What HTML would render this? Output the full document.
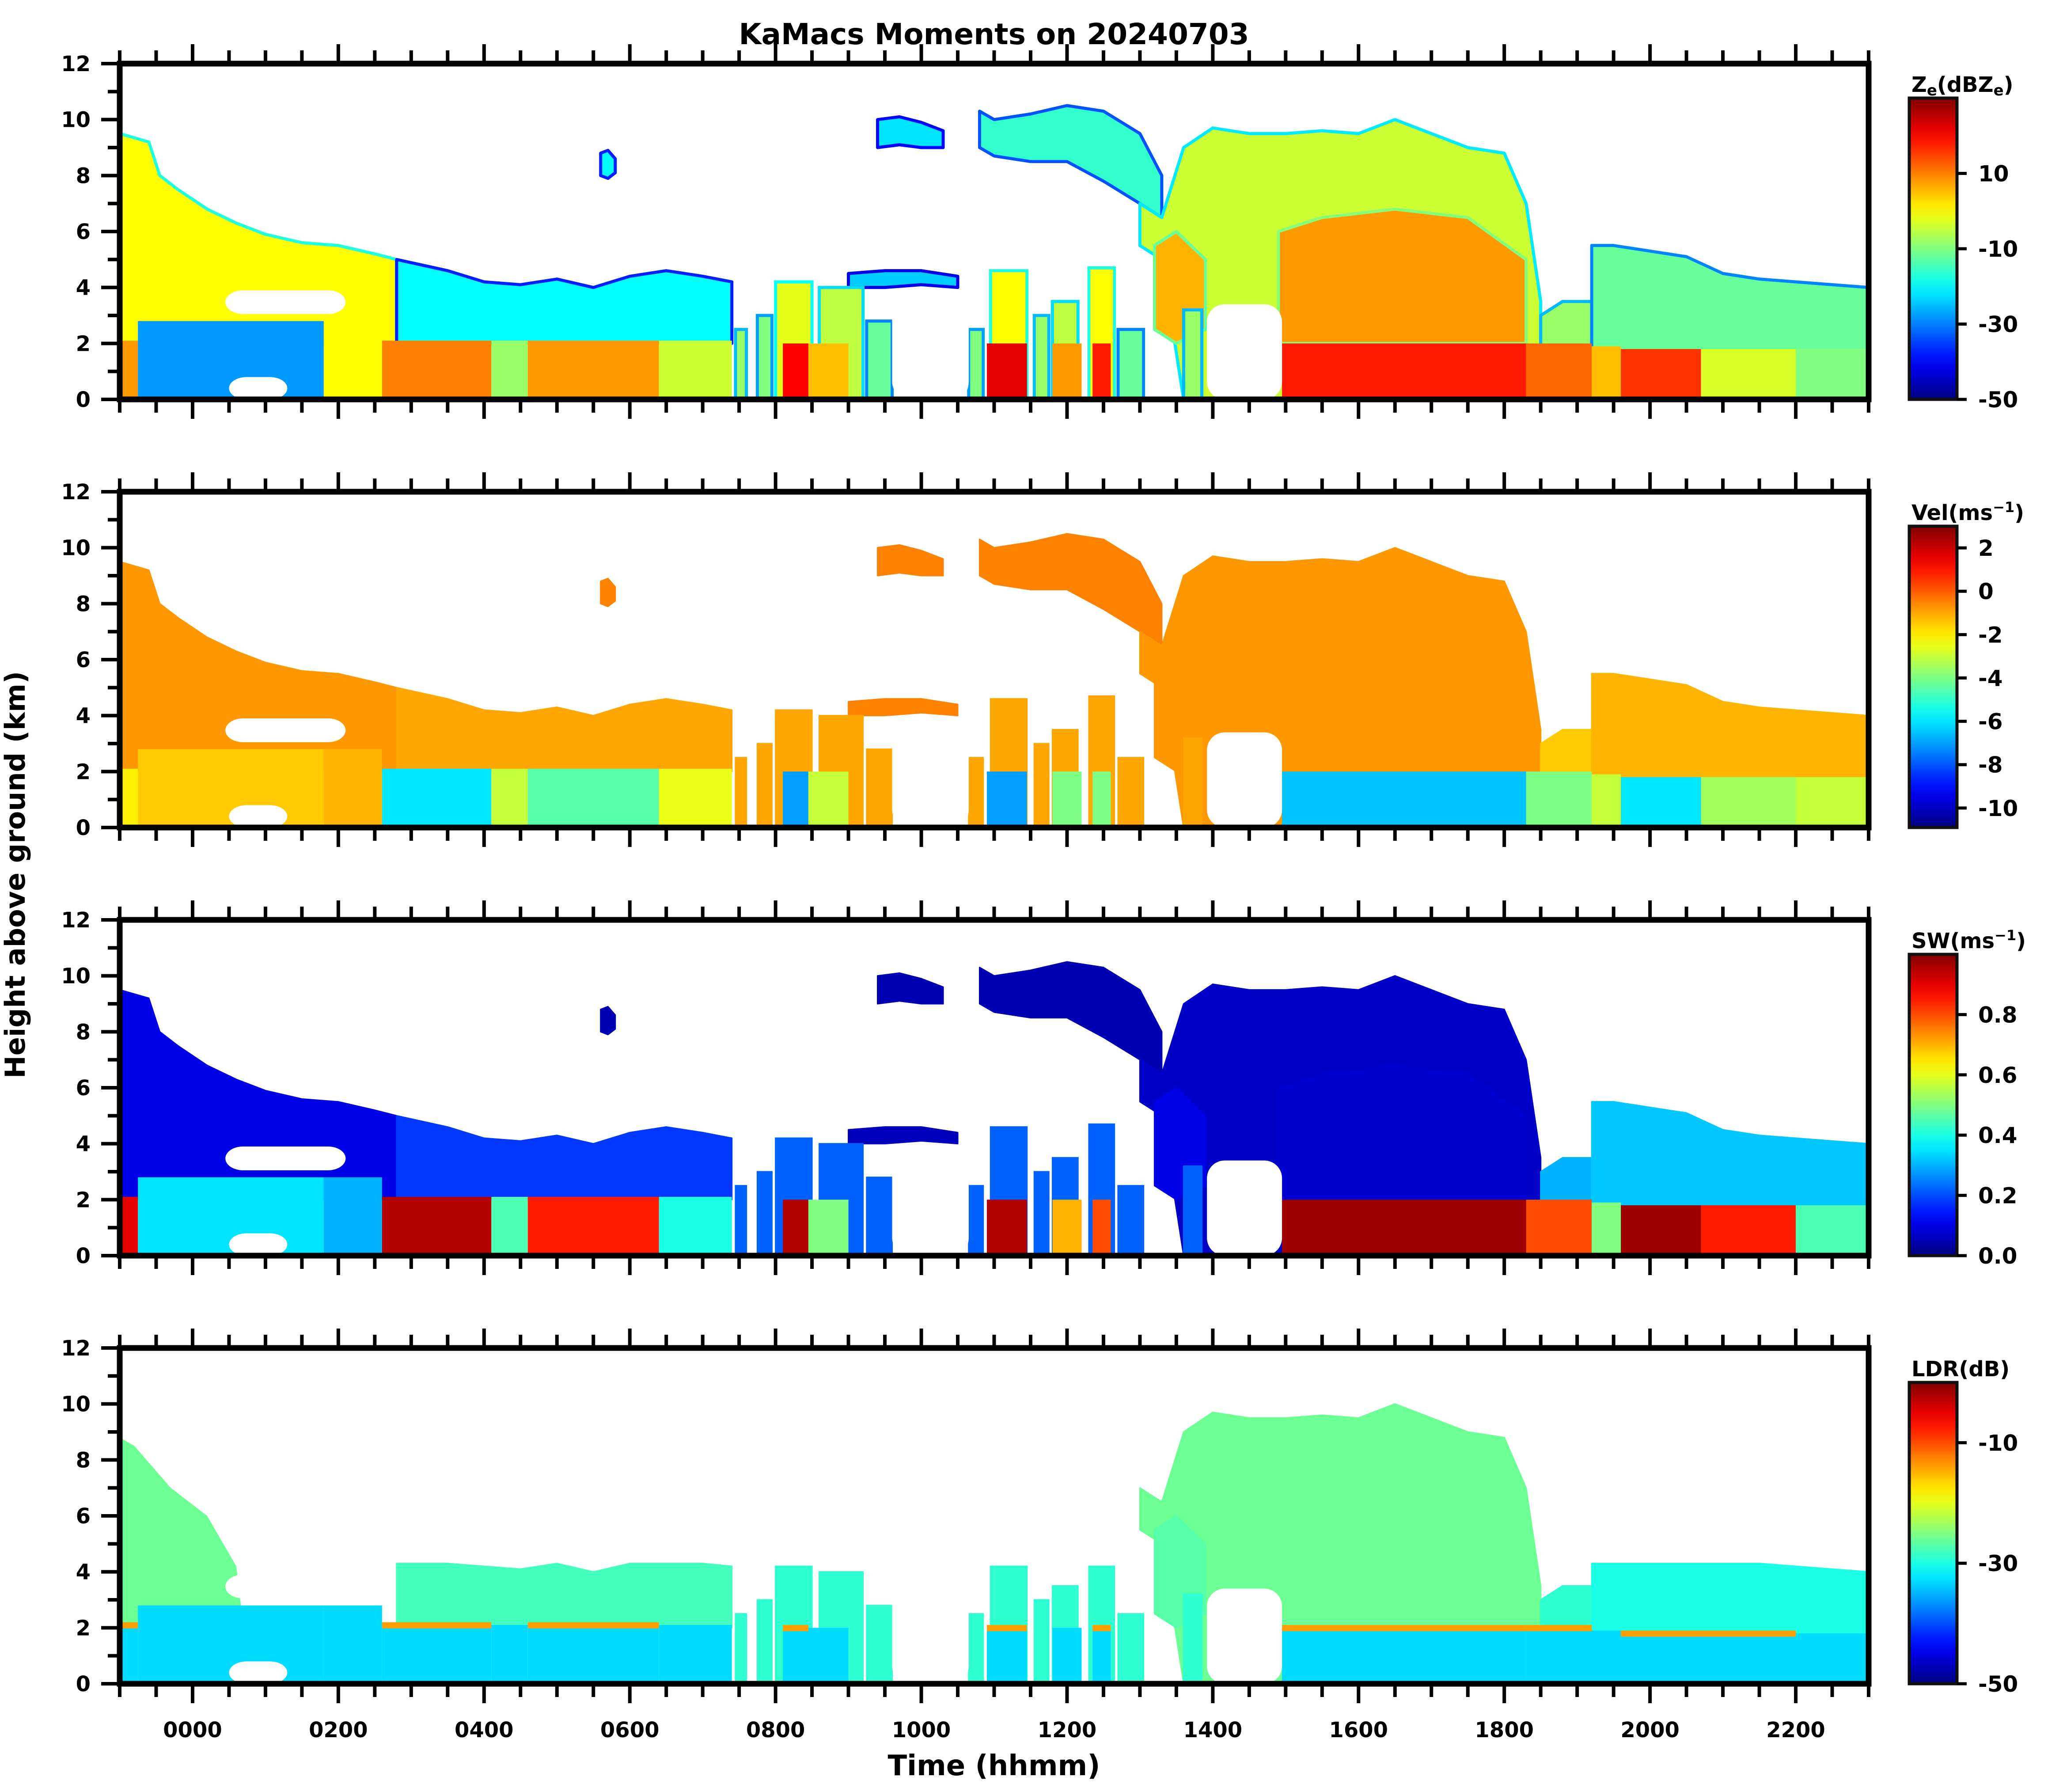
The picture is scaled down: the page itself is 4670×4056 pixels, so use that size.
<!DOCTYPE html>
<html><head><meta charset="utf-8"><style>
html,body{margin:0;padding:0;background:#fff}
svg{display:block}
text{font-family:"DejaVu Sans","Liberation Sans",sans-serif;font-weight:bold;fill:#000}
</style></head><body>
<svg id="fig" width="4670" height="4056" viewBox="0 0 4670 4056" xmlns="http://www.w3.org/2000/svg">
<text x="2250" y="100" font-size="66" text-anchor="middle">KaMacs Moments on 20240703</text>
<text x="0" y="0" font-size="62" text-anchor="middle" transform="translate(56,1980) rotate(-90)">Height above ground (km)</text>
<text x="2250" y="4018" font-size="64" text-anchor="middle">Time (hhmm)</text>
</svg>
<script>
// ---- data (time in hours from 0000, heights in km) ----
const regionNames = ['stratA','midB','upperIce','upperSmall','blip','elevLayer','bigCloud','bigCore','preCore','tail','late'];
const regionT = [
 [-1,-0.6,-0.45,-0.2,0.2,0.6,1.0,1.5,2.0,2.5,2.8],
 [2.8,3.5,4.0,4.5,5.0,5.5,6.0,6.5,7.0,7.4],
 [10.8,11.0,11.5,12.0,12.5,13.0,13.3],
 [9.4,9.7,10.0,10.3],
 [5.6,5.7,5.8],
 [9.0,9.5,10.0,10.5],
 [13.0,13.3,13.6,14.0,14.5,15.0,15.5,16.0,16.5,17.0,17.5,18.0,18.3,18.5],
 [14.9,15.5,16.5,17.5,18.3],
 [13.2,13.5,13.9],
 [18.5,18.8,19.2],
 [19.2,19.5,20.0,20.5,21.0,21.5,22.0,22.5,23.0]
];
const regionTop = [
 [9.5,9.2,8.0,7.5,6.8,6.3,5.9,5.6,5.5,5.2,5.0],
 [5.0,4.6,4.2,4.1,4.3,4.0,4.4,4.6,4.4,4.2],
 [10.3,10.0,10.2,10.5,10.3,9.5,8.0],
 [10.0,10.1,9.9,9.6],
 [8.8,8.9,8.6],
 [4.5,4.6,4.6,4.4],
 [7.0,6.5,9.0,9.7,9.5,9.5,9.6,9.5,10.0,9.5,9.0,8.8,7.0,3.5],
 [6.0,6.5,6.8,6.5,5.0],
 [5.5,6.0,5.0],
 [3.0,3.5,3.5],
 [5.5,5.5,5.3,5.1,4.5,4.3,4.2,4.1,4.0]
];
const regionBase = [
 [2,2,2,2,2,2,2,2,2,2,2],
 [2,2,2,2,2,2,2,2,2,2],
 [9.0,8.7,8.5,8.5,7.8,7.0,6.5],
 [9.0,9.1,9.0,9.0],
 [8.0,7.9,8.1],
 [4.0,4.0,4.1,4.0],
 [5.5,5.0,0,0,0,0,0,0,0,0,0,0,0,0],
 [2,2,2,2,2],
 [2.5,2.0,2.5],
 [0,0,0],
 [0,0,0,0,0,0,0,0,0]
];
const regionZ   = [0,-20,-16,-22,-20,-24,-4,8,6,-8,-12];
const regionVel = [-0.8,-1,-0.5,-0.5,-0.5,-0.5,-0.8,-0.8,-0.8,-1.5,-1.2];
const regionSW  = [0.1,0.18,0.05,0.05,0.05,0.06,0.07,0.08,0.1,0.3,0.32];
const regionLDR = [null,-28,null,null,null,null,-26,-26,-27,-29,-30];
// early cloud seen by LDR
const ldrEarlyT = [-1,-0.8,-0.3,0.2,0.6,0.7];
const ldrEarlyTop = [8.8,8.5,7.0,6.0,4.2,2.0];
// convective towers [t0,t1,top]
const towerT0 = [7.45,7.75,8.0,8.6,9.25,10.65,10.95,11.55,11.8,12.3,12.7,13.6];
const towerT1 = [7.6,7.95,8.5,9.2,9.6,10.85,11.45,11.75,12.15,12.65,13.05,13.85];
const towerTop = [2.5,3.0,4.2,4.0,2.8,2.5,4.6,3.0,3.5,4.7,2.5,3.2];
const towerZ = [-8,-10,-2,-5,-12,-10,0,-8,-5,0,-12,-8];
// low layer segments (0 - top km)
const lowT0 = [-1,-0.75,1.8,2.6,4.1,4.6,6.4,8.1,8.45,10.9,11.8,12.35,14.95,18.3,19.2,19.6,20.7,22.0];
const lowT1 = [-0.75,1.8,2.6,4.1,4.6,6.4,7.4,8.45,9.0,11.45,12.2,12.6,18.3,19.2,19.6,20.7,22.0,23.0];
const lowTop = [2.1,2.8,2.8,2.1,2.1,2.1,2.1,2.0,2.0,2.0,2.0,2.0,2.0,2.0,1.9,1.8,1.8,1.8];
const lowZ   = [8,-28,0,10,-8,8,-4,20,5,22,8,18,18,12,5,16,-3,-10];
const lowVel = [-2,-1.5,-1.2,-6,-3,-4.5,-2.5,-7,-3,-7,-4,-4,-6.5,-4,-3,-6,-3.5,-3];
const lowSW  = [0.9,0.35,0.3,0.95,0.45,0.85,0.4,0.95,0.5,0.95,0.7,0.8,0.97,0.8,0.5,0.97,0.85,0.45];
const lowLDR = [-33,-33,-33,-33,-33,-33,-33,-33,-33,-33,-33,-33,-33,-33,-33,-33,-33,-33];
// empty gaps [t0,t1,bottom,top]
const gapT0 = [0.45,0.5,13.92,9.6,10.3];
const gapT1 = [2.1,1.3,14.95,10.65,10.65];
const gapB  = [3.05,0.0,0.0,0.0,0.0];
const gapTop= [3.9,0.8,3.4,3.9,3.9];
// colorbar ranges and ticks
const cbMin = [-50,-10.9,0,-50];
const cbMax = [30,3.0,1.0,0];
const cbTicks = [[10,-10,-30,-50],[2,0,-2,-4,-6,-8,-10],[0.8,0.6,0.4,0.2,0.0],[-10,-30,-50]];
const cbTickLabels = [['10','-10','-30','-50'],['2','0','-2','-4','-6','-8','-10'],['0.8','0.6','0.4','0.2','0.0'],['-10','-30','-50']];
const xTickHours = [0,2,4,6,8,10,12,14,16,18,20,22];
const xTickLabels = ['0000','0200','0400','0600','0800','1000','1200','1400','1600','1800','2000','2200'];
const yTicks = [0,2,4,6,8,10,12];

// ---- layout ----
const NS='http://www.w3.org/2000/svg';
const svg=document.getElementById('fig');
const L=271,R=4230,PH=760;
const panelTops=[144,1113,2082,3051];
const panelKeys=['ze','vel','sw','ldr'];
function X(t){return L+(t+1)*(R-L)/24;}
function mk(tag,attrs,parent){const e=document.createElementNS(NS,tag);for(const k in attrs)e.setAttribute(k,attrs[k]);(parent||svg).appendChild(e);return e;}
function jet(x){x=Math.max(0,Math.min(1,x));const c=v=>Math.round(255*Math.max(0,Math.min(1,v)));
 return 'rgb('+c(1.5-Math.abs(4*x-3))+','+c(1.5-Math.abs(4*x-2))+','+c(1.5-Math.abs(4*x-1))+')';}

panelKeys.forEach((key,p)=>{
 const top=panelTops[p],bot=top+PH;
 const Y=h=>bot-h*PH/12;
 const norm=v=>(v-cbMin[p])/(cbMax[p]-cbMin[p]);
 const g=mk('g',{});
 
 
 const cid='clip'+p;
 const cp=mk('clipPath',{id:cid},g);
 mk('rect',{x:L,y:top,width:R-L,height:PH},cp);
 const d=mk('g',{'clip-path':'url(#'+cid+')'},g);
 
 
 const val=(i,arrZ,arrV,arrS,arrL)=>[arrZ,arrV,arrS,arrL][p][i];
 const edge=(v)=>p===0?jet(norm(v)-0.22):jet(norm(v));
 const sw=p===0?7:3;
 // regions
 regionNames.forEach((nm,i)=>{
  let v=val(i,regionZ,regionVel,regionSW,regionLDR);
  if(v===null)return;
  const ts=regionT[i],tp=regionTop[i],bs=regionBase[i];
  let pts=ts.map((t,j)=>X(t)+','+Y(p===3&&nm!=='bigCloud'&&nm!=='bigCore'&&nm!=='preCore'?Math.min(tp[j],4.3):tp[j]));
  for(let j=ts.length-1;j>=0;j--)pts.push(X(ts[j])+','+Y(bs[j]));
  const e=mk('polygon',{points:pts.join(' '),fill:jet(norm(v)),stroke:edge(v),'stroke-width':sw,'stroke-linejoin':'round'},d);
  
  
 });
 if(p===3){
  let pts=ldrEarlyT.map((t,j)=>X(t)+','+Y(ldrEarlyTop[j]));
  pts.push(X(0.7)+','+Y(2),X(-1)+','+Y(2));
  const e=mk('polygon',{points:pts.join(' '),fill:jet(norm(-26))},d);
  
  
 }
 // towers
 towerT0.forEach((t0,i)=>{
  const vs=[towerZ[i],-1,0.22,-29];
  const v=vs[p];
  const tp=p===3?Math.min(towerTop[i],4.2):towerTop[i];
  const e=mk('rect',{x:X(t0),y:Y(tp),width:X(towerT1[i])-X(t0),height:Y(0)-Y(tp),fill:jet(norm(v)),stroke:edge(v),'stroke-width':sw},d);
  
  
 });
 // low layer
 lowT0.forEach((t0,i)=>{
  const v=val(i,lowZ,lowVel,lowSW,lowLDR);
  if(v===null)return;
  const e=mk('rect',{x:X(t0),y:Y(lowTop[i]),width:X(lowT1[i])-X(t0),height:Y(0)-Y(lowTop[i]),fill:jet(norm(v))},d);
  
  
  if(p===3&&lowSW[i]>0.75){
   const b=mk('rect',{x:X(t0),y:Y(lowTop[i]+0.1),width:X(lowT1[i])-X(t0),height:Y(0)-Y(0.22),fill:jet(norm(-14))},d);
   
   
  }
 });
 // gaps
 gapT0.forEach((t0,i)=>{
  const e=mk('rect',{x:X(t0),y:Y(gapTop[i]),width:X(gapT1[i])-X(t0),height:Y(gapB[i])-Y(gapTop[i]),rx:40,fill:'#fff'},d);
  
  
 });
 // ticks x (top and bottom)
 for(let k=0;k<=48;k++){
  const t=-1+k*0.5;const x=X(t);const major=(Math.abs(t%2)<1e-6);
  const len=major?44:30;
  mk('line',{x1:x,x2:x,y1:top,y2:top-len,stroke:'#000','stroke-width':8},g);
  mk('line',{x1:x,x2:x,y1:bot,y2:bot+len,stroke:'#000','stroke-width':8},g);
 }
 // y ticks
 for(let h=0;h<=12;h++){
  const len=h%2===0?42:27;
  mk('line',{x1:L,x2:L-len,y1:Y(h),y2:Y(h),stroke:'#000','stroke-width':8},g);
 }
 yTicks.forEach(h=>{
  const t=mk('text',{x:205,y:Y(h)+17,'font-size':48,'text-anchor':'end'},g);
  t.textContent=String(h);
  
  
 });
 // frame
 const fr=mk('rect',{x:L,y:top,width:R-L,height:PH,fill:'none',stroke:'#000','stroke-width':13},g);
 
 
 // colorbar
 const cbT=top+78,cbX=4322,cbW=108;
 const gid='grad'+p;
 const lg=mk('linearGradient',{id:gid,x1:0,y1:1,x2:0,y2:0},g);
 for(let s=0;s<=20;s++)mk('stop',{offset:s/20,'stop-color':jet(s/20)},lg);
 const cb=mk('rect',{x:cbX,y:cbT,width:cbW,height:bot-cbT,fill:'url(#'+gid+')',stroke:'#111','stroke-width':7},g);
 
 
 cbTicks[p].forEach((v,i)=>{
  const y=bot-(v-cbMin[p])/(cbMax[p]-cbMin[p])*(bot-cbT);
  mk('line',{x1:cbX+cbW,x2:cbX+cbW+22,y1:y,y2:y,stroke:'#000','stroke-width':7},g);
  const t=mk('text',{x:4478,y:y+18,'font-size':50},g);
  t.textContent=cbTickLabels[p][i];
  
  
 });
 const tt=mk('text',{x:4327,y:cbT-14,'font-size':48},g);
 
 
 if(p===0){tt.innerHTML='Z<tspan font-size="34" dy="8">e</tspan><tspan dy="-8">(dBZ</tspan><tspan font-size="34" dy="8">e</tspan><tspan dy="-8">)</tspan>';}
 else if(p===1){tt.innerHTML='Vel(ms<tspan font-size="32" dy="-18">−1</tspan><tspan dy="18">)</tspan>';}
 else if(p===2){tt.innerHTML='SW(ms<tspan font-size="32" dy="-18">−1</tspan><tspan dy="18">)</tspan>';}
 else {tt.textContent='LDR(dB)';}
 if(p===3){
  xTickHours.forEach((h,i)=>{
   const t=mk('text',{x:X(h),y:3932,'font-size':48,'text-anchor':'middle'},g);
   t.textContent=xTickLabels[i];
   
   
  });
 }
});
</script>
</body></html>
